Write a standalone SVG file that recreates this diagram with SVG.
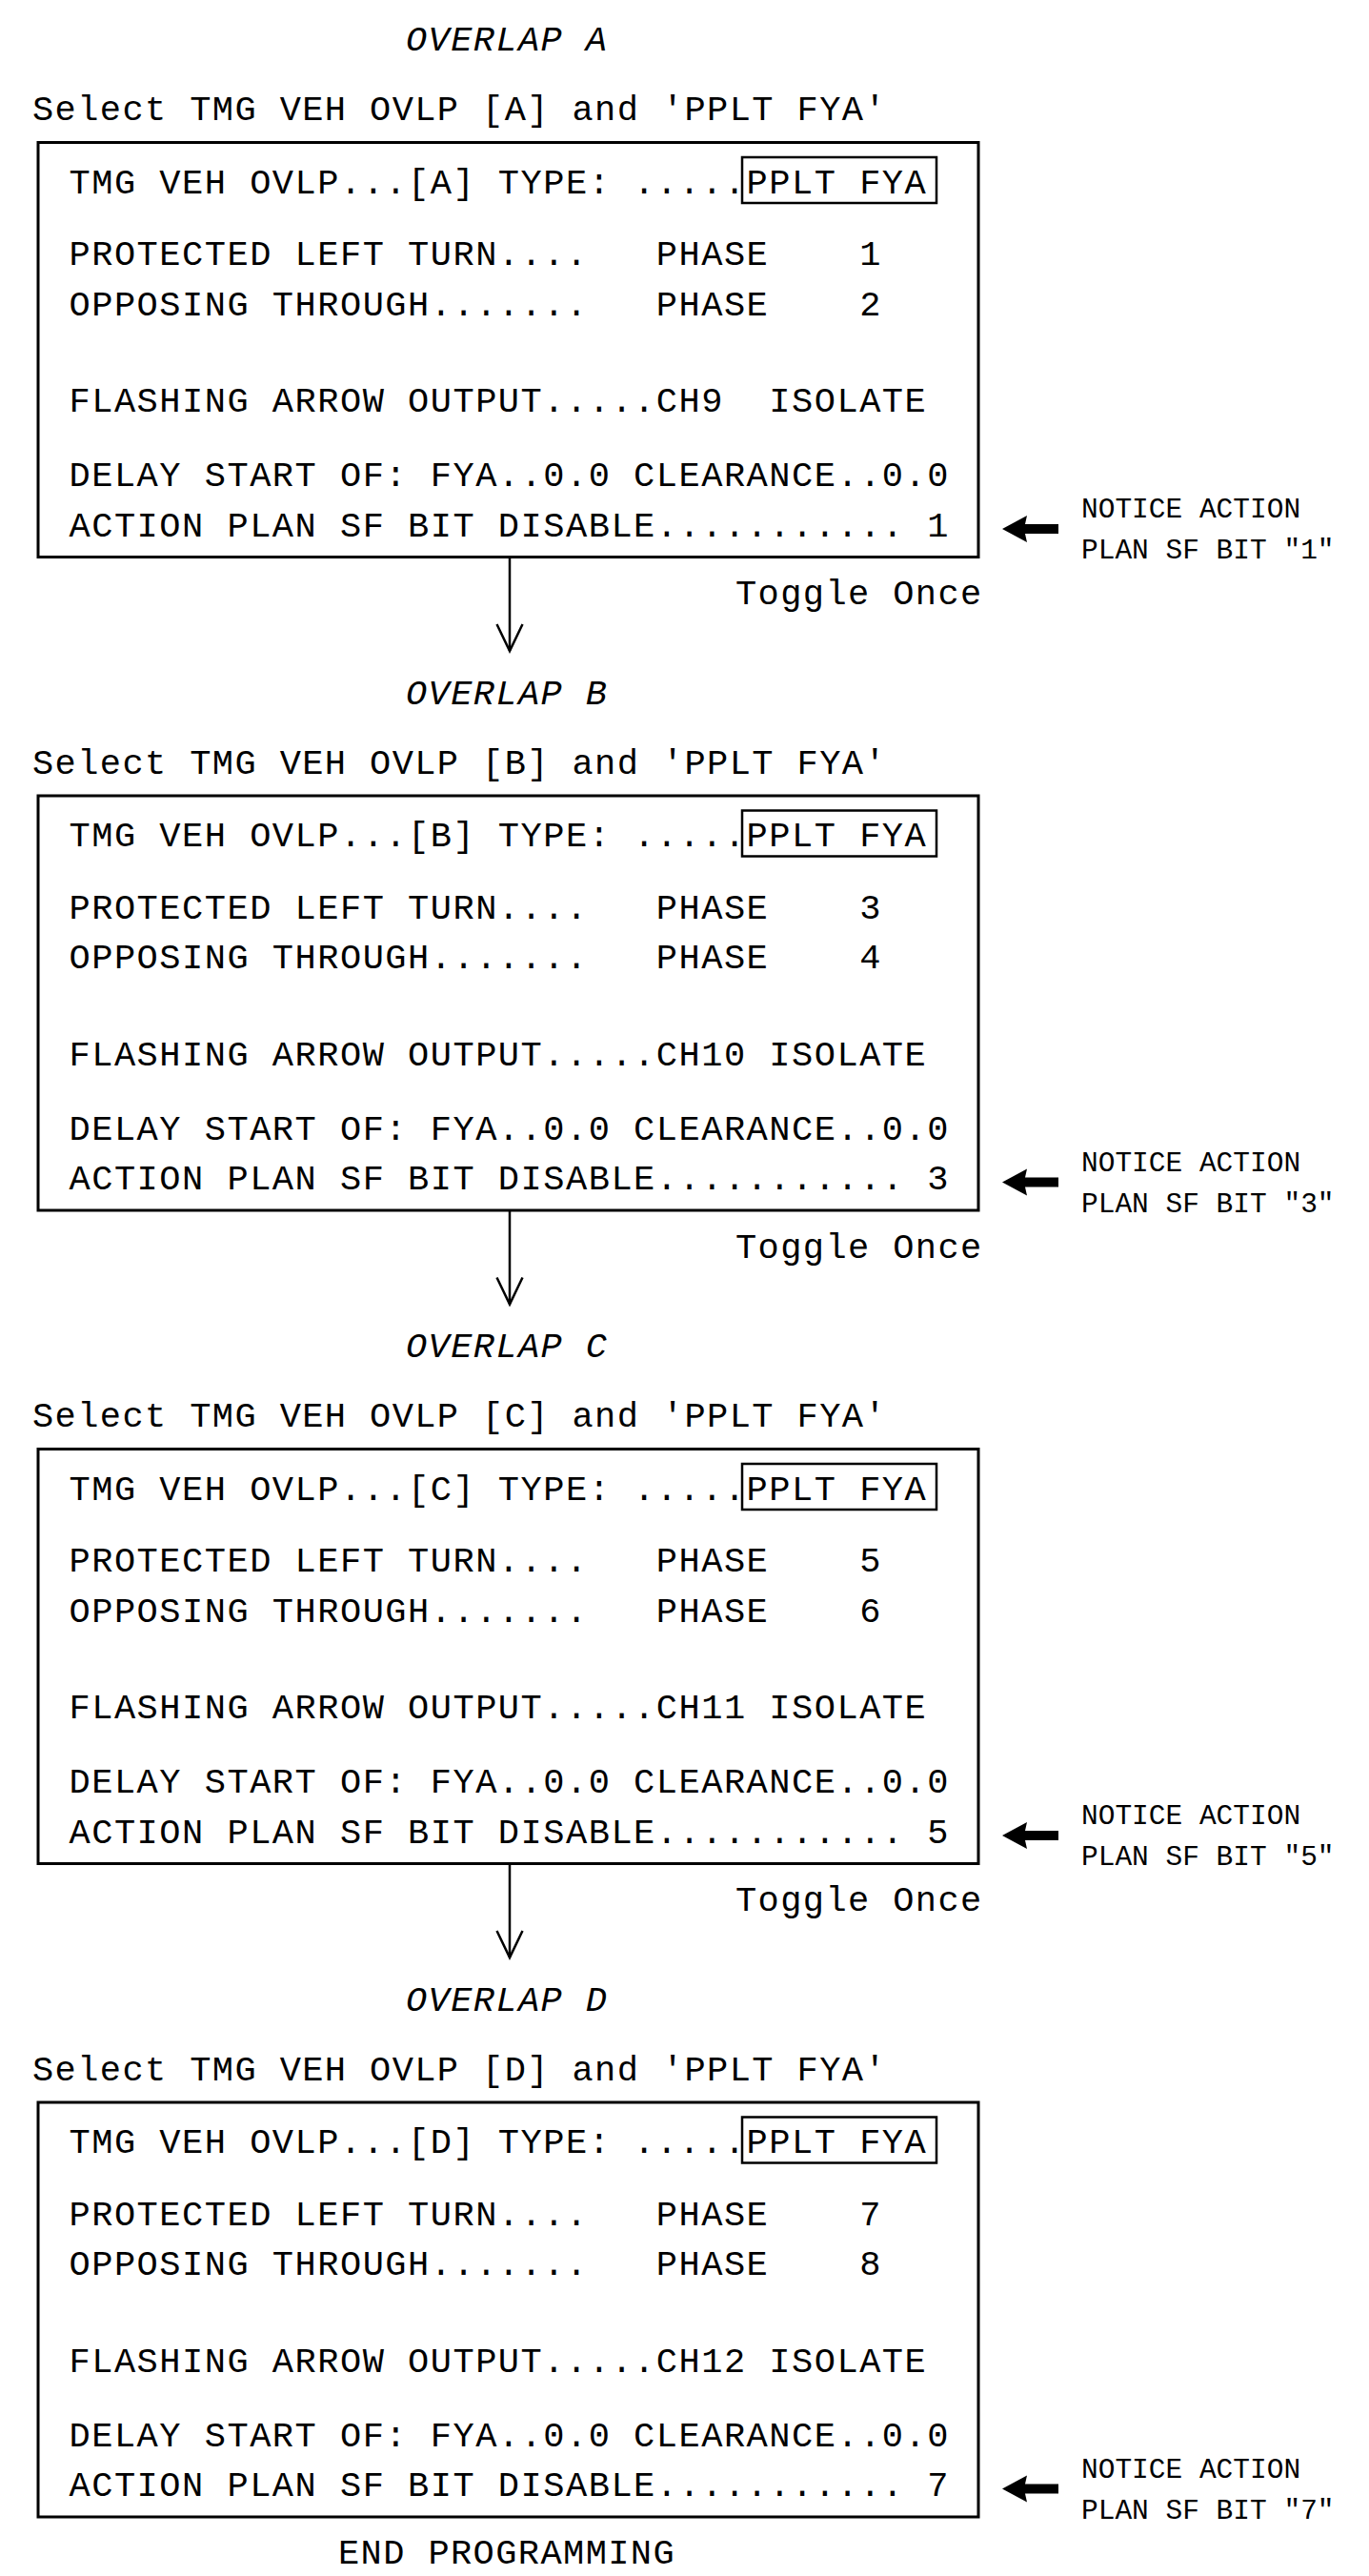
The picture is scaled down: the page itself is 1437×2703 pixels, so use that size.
<svg xmlns="http://www.w3.org/2000/svg" width="1437" height="2703" viewBox="0 0 1437 2703" xml:space="preserve">
<style>
text{font-family:"Liberation Mono","DejaVu Sans Mono",monospace;fill:#000;white-space:pre}
.t{font-size:37px;letter-spacing:1.5px}
.s{font-size:37px;letter-spacing:1.4px}
.ti{font-size:37px;letter-spacing:1.4px;font-style:italic}
.n{font-size:29.5px;letter-spacing:0px}
.box{fill:none;stroke:#000;stroke-width:3}
.sbox{fill:none;stroke:#000;stroke-width:2.5}
.ln{fill:none;stroke:#000;stroke-width:2.5}
.na{fill:#000;stroke:none}
</style>
<rect width="1437" height="2703" fill="#fff"/>

<g id="overlap-A">
<text class="ti" x="426" y="53">OVERLAP A</text>
<text class="s" x="34" y="126">Select TMG VEH OVLP [A] and 'PPLT FYA'</text>
<rect class="box" x="40" y="149.5" width="987" height="435"/>
<rect class="sbox" x="779" y="165" width="204" height="48"/>
<text class="t" x="72.5" y="202.5">TMG VEH OVLP...[A] TYPE: .....PPLT FYA</text>
<text class="t" x="72.5" y="278">PROTECTED LEFT TURN....   PHASE    1</text>
<text class="t" x="72.5" y="330.5">OPPOSING THROUGH.......   PHASE    2</text>
<text class="t" x="72.5" y="432">FLASHING ARROW OUTPUT.....CH9  ISOLATE</text>
<text class="t" x="72.5" y="510">DELAY START OF: FYA..0.0 CLEARANCE..0.0</text>
<text class="t" x="72.5" y="562.5">ACTION PLAN SF BIT DISABLE........... 1</text>
</g>

<g id="overlap-B" transform="translate(0,685.5)">
<text class="ti" x="426" y="53">OVERLAP B</text>
<text class="s" x="34" y="126">Select TMG VEH OVLP [B] and 'PPLT FYA'</text>
<rect class="box" x="40" y="149.5" width="987" height="435"/>
<rect class="sbox" x="779" y="165" width="204" height="48"/>
<text class="t" x="72.5" y="202.5">TMG VEH OVLP...[B] TYPE: .....PPLT FYA</text>
<text class="t" x="72.5" y="278">PROTECTED LEFT TURN....   PHASE    3</text>
<text class="t" x="72.5" y="330.5">OPPOSING THROUGH.......   PHASE    4</text>
<text class="t" x="72.5" y="432">FLASHING ARROW OUTPUT.....CH10 ISOLATE</text>
<text class="t" x="72.5" y="510">DELAY START OF: FYA..0.0 CLEARANCE..0.0</text>
<text class="t" x="72.5" y="562.5">ACTION PLAN SF BIT DISABLE........... 3</text>
</g>

<g id="overlap-C" transform="translate(0,1371)">
<text class="ti" x="426" y="53">OVERLAP C</text>
<text class="s" x="34" y="126">Select TMG VEH OVLP [C] and 'PPLT FYA'</text>
<rect class="box" x="40" y="149.5" width="987" height="435"/>
<rect class="sbox" x="779" y="165" width="204" height="48"/>
<text class="t" x="72.5" y="202.5">TMG VEH OVLP...[C] TYPE: .....PPLT FYA</text>
<text class="t" x="72.5" y="278">PROTECTED LEFT TURN....   PHASE    5</text>
<text class="t" x="72.5" y="330.5">OPPOSING THROUGH.......   PHASE    6</text>
<text class="t" x="72.5" y="432">FLASHING ARROW OUTPUT.....CH11 ISOLATE</text>
<text class="t" x="72.5" y="510">DELAY START OF: FYA..0.0 CLEARANCE..0.0</text>
<text class="t" x="72.5" y="562.5">ACTION PLAN SF BIT DISABLE........... 5</text>
</g>

<g id="overlap-D" transform="translate(0,2056.5)">
<text class="ti" x="426" y="53">OVERLAP D</text>
<text class="s" x="34" y="126">Select TMG VEH OVLP [D] and 'PPLT FYA'</text>
<rect class="box" x="40" y="149.5" width="987" height="435"/>
<rect class="sbox" x="779" y="165" width="204" height="48"/>
<text class="t" x="72.5" y="202.5">TMG VEH OVLP...[D] TYPE: .....PPLT FYA</text>
<text class="t" x="72.5" y="278">PROTECTED LEFT TURN....   PHASE    7</text>
<text class="t" x="72.5" y="330.5">OPPOSING THROUGH.......   PHASE    8</text>
<text class="t" x="72.5" y="432">FLASHING ARROW OUTPUT.....CH12 ISOLATE</text>
<text class="t" x="72.5" y="510">DELAY START OF: FYA..0.0 CLEARANCE..0.0</text>
<text class="t" x="72.5" y="562.5">ACTION PLAN SF BIT DISABLE........... 7</text>
</g>

<g id="connectors">
<g id="arrow-A-B">
<line class="ln" x1="535" y1="585.5" x2="535" y2="683"/>
<polyline class="ln" points="521.5,655 535,683 548.5,655"/>
</g>
<g id="arrow-B-C" transform="translate(0,685.5)">
<line class="ln" x1="535" y1="585.5" x2="535" y2="683"/>
<polyline class="ln" points="521.5,655 535,683 548.5,655"/>
</g>
<g id="arrow-C-D" transform="translate(0,1371)">
<line class="ln" x1="535" y1="585.5" x2="535" y2="683"/>
<polyline class="ln" points="521.5,655 535,683 548.5,655"/>
</g>
<polygon id="notice-arrow-A" class="na" points="1052,555 1078,541 1076,550 1111,550 1111,560 1076,560 1078,569"/>
<polygon id="notice-arrow-B" class="na" transform="translate(0,685.5)" points="1052,555 1078,541 1076,550 1111,550 1111,560 1076,560 1078,569"/>
<polygon id="notice-arrow-C" class="na" transform="translate(0,1371)" points="1052,555 1078,541 1076,550 1111,550 1111,560 1076,560 1078,569"/>
<polygon id="notice-arrow-D" class="na" transform="translate(0,2056.5)" points="1052,555 1078,541 1076,550 1111,550 1111,560 1076,560 1078,569"/>
</g>

<g id="labels">
<text class="s" x="772" y="634">Toggle Once</text>
<text class="s" x="772" y="1319.5">Toggle Once</text>
<text class="s" x="772" y="2005">Toggle Once</text>
<g id="notice-A">
<text class="n" x="1135" y="543">NOTICE ACTION</text>
<text class="n" x="1135" y="586">PLAN SF BIT "1"</text>
</g>
<g id="notice-B" transform="translate(0,685.5)">
<text class="n" x="1135" y="543">NOTICE ACTION</text>
<text class="n" x="1135" y="586">PLAN SF BIT "3"</text>
</g>
<g id="notice-C" transform="translate(0,1371)">
<text class="n" x="1135" y="543">NOTICE ACTION</text>
<text class="n" x="1135" y="586">PLAN SF BIT "5"</text>
</g>
<g id="notice-D" transform="translate(0,2056.5)">
<text class="n" x="1135" y="543">NOTICE ACTION</text>
<text class="n" x="1135" y="586">PLAN SF BIT "7"</text>
</g>
<text class="s" x="355" y="2690">END PROGRAMMING</text>
</g>
</svg>
